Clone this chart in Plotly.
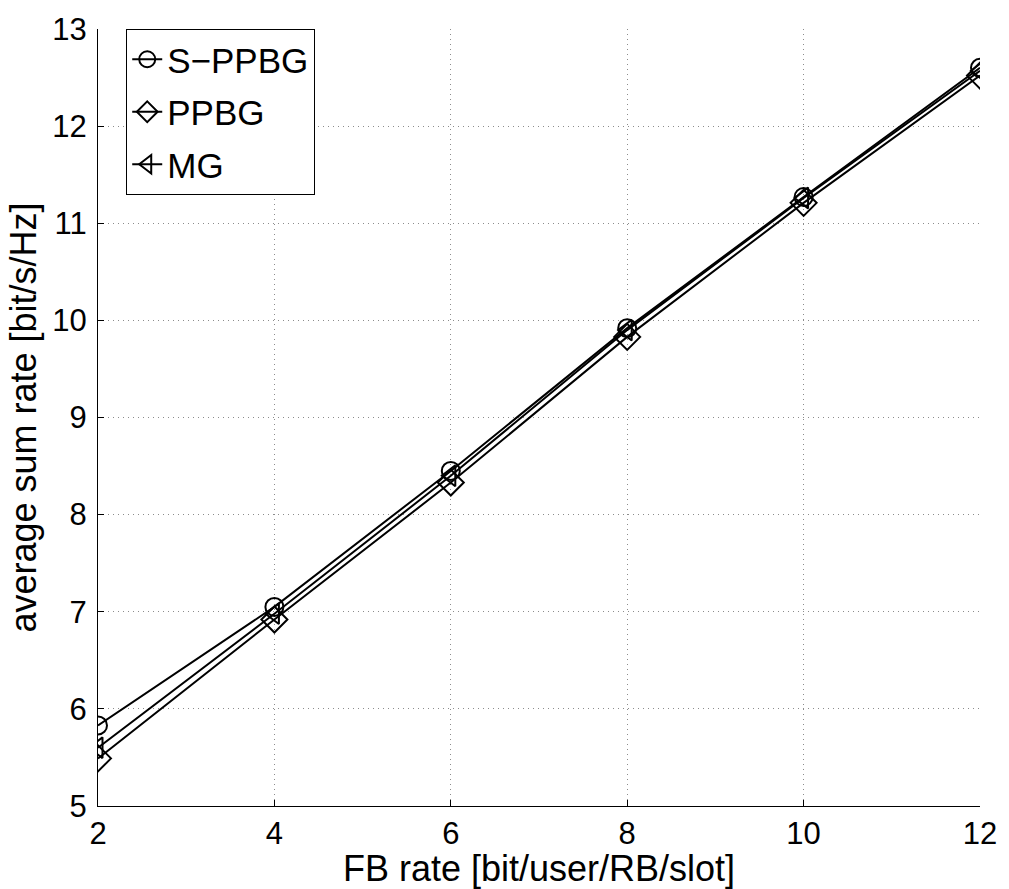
import plotly.graph_objects as go

fb_rate = [2, 4, 6, 8, 10, 12]
s_ppbg = [5.83, 7.05, 8.45, 9.92, 11.27, 12.60]
ppbg = [5.49, 6.92, 8.33, 9.83, 11.21, 12.52]
mg = [5.60, 6.98, 8.40, 9.90, 11.26, 12.57]

series = [
    ("S\u2212PPBG", s_ppbg, "circle-open", 18),
    ("PPBG", ppbg, "diamond-open", 20),
    ("MG", mg, "triangle-left-open", 18),
]

FONT = "Liberation Sans, Arial, sans-serif"

fig = go.Figure()
for i, (name, vals, sym, size) in enumerate(series):
    fig.add_trace(go.Scatter(
        x=fb_rate, y=vals, name=name, mode="lines+markers",
        legendgroup=f"g{i}",
        line=dict(color="black", width=2),
        marker=dict(symbol=sym, size=size, color="black",
                    line=dict(color="black", width=2)),
    ))

axis_common = dict(
    showline=True, linecolor="black", linewidth=1,
    ticks="inside", ticklen=6, tickcolor="black",
    showgrid=True, gridcolor="#8c8c8c", griddash="1px,4px", gridwidth=1,
    zeroline=False, mirror=False,
    tickfont=dict(family=FONT, size=31, color="black"),
)

fig.update_xaxes(
    range=[2, 12], tickvals=fb_rate, ticktext=[str(v) for v in fb_rate],
    title=dict(text="FB rate [bit/user/RB/slot]", standoff=0,
               font=dict(family=FONT, size=36, color="black")),
    **axis_common,
)
fig.update_yaxes(
    range=[5, 13], dtick=1, ticklabelstandoff=4,
    title=dict(text="average sum rate [bit/s/Hz]", standoff=4,
               font=dict(family=FONT, size=36, color="black")),
    **axis_common,
)

fig.update_layout(
    width=1009, height=889,
    margin=dict(l=98, r=26, t=24, b=83),
    paper_bgcolor="white", plot_bgcolor="white",
    showlegend=True,
    legend=dict(
        x=0.032, y=1.0, xanchor="left", yanchor="top",
        bgcolor="white", bordercolor="black", borderwidth=1,
        font=dict(family=FONT, size=35, color="black"),
        tracegroupgap=4, traceorder="grouped",
        itemwidth=30,
    ),
)

fig.write_html("out.html")
